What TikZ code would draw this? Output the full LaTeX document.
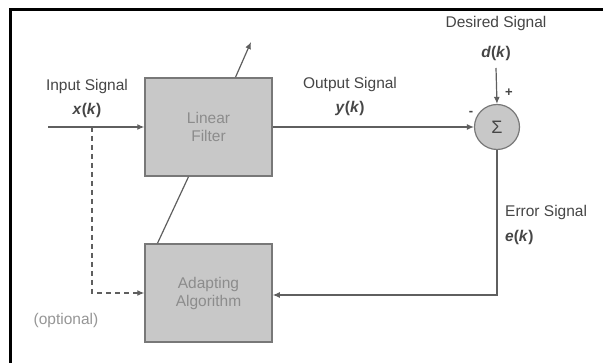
\documentclass[tikz,border=0pt]{standalone}
\usepackage{fontspec}
\setmainfont{Liberation Sans}
\usetikzlibrary{arrows.meta}
\definecolor{linegray}{RGB}{95,95,95}
\definecolor{boxfill}{RGB}{200,200,200}
\definecolor{boxedge}{RGB}{120,120,120}
\definecolor{labelgray}{RGB}{70,70,70}
\definecolor{innergray}{RGB}{140,140,140}
\definecolor{optgray}{RGB}{150,150,150}
\begin{document}
\begin{tikzpicture}[x=1pt,y=-1pt,
  block/.style={draw=boxedge,line width=1.5pt,fill=boxfill,minimum width=127pt,minimum height=98pt,inner sep=0pt,align=center,text=innergray,font=\fontsize{15.5}{18}\selectfont},
  lbl/.style={text=labelgray,font=\fontsize{15.5}{18}\selectfont,inner sep=0pt,align=center},
  conn/.style={draw=linegray,line width=1.2pt},
  arr/.style={conn,-{Latex[length=7pt,width=6pt]}}]
\useasboundingbox (0,0) rectangle (603,363);
\fill[white] (0,0) rectangle (603,363);
\draw[black,line width=3pt] (10,363) -- (10,10) -- (603,10);

\node[block] (lf) at (208.5,127) {Linear\\Filter};
\node[block] (aa) at (208.5,293) {Adapting\\Algorithm};
\node[draw=boxedge,line width=1.2pt,fill=boxfill,circle,minimum size=45pt,inner sep=0pt,text=labelgray,font=\fontsize{18}{20}\selectfont] (sum) at (497,127) {Σ};

\coordinate (in) at (48,127);
\coordinate (tap) at (92,127);
\coordinate (dcorner) at (92,293);
\coordinate (dsrc) at (496,68);
\coordinate (ecorner) at (497,295);
\coordinate (tipA) at (251,42);

\node[lbl] (inlbl) at (87,86) {Input Signal};
\node[lbl] (xk) at (87,110) {\textbf{\textit{x}(\textit{k})}};
\node[lbl] (outlbl) at (350,84) {Output Signal};
\node[lbl] (yk) at (350,108) {\textbf{\textit{y}(\textit{k})}};
\node[lbl] (deslbl) at (496,23) {Desired Signal};
\node[lbl] (dk) at (496,53) {\textbf{\textit{d}(\textit{k})}};
\node[lbl,anchor=west] (errlbl) at (505,212) {Error Signal};
\node[lbl,anchor=west] (ek) at (505,237) {\textbf{\textit{e}(\textit{k})}};
\node[lbl,text=optgray] (opt) at (66,320) {(optional)};
\node[lbl,font=\bfseries\fontsize{13}{14}\selectfont] (minus) at (471,113) {-};
\node[lbl,font=\bfseries\fontsize{13}{14}\selectfont] (plus) at (509,93) {+};

\draw[arr] (in) -- (lf.west);
\draw[arr] (lf.east) -- (sum.west);
\draw[arr] (dsrc) -- (sum.north);
\draw[arr] (sum.south) -- (ecorner) -- (aa.east |- ecorner);
\draw[conn,dash pattern=on 5pt off 4pt,-{Latex[length=7pt,width=6pt]}] (tap) -- (dcorner) -- (aa.west |- dcorner);
\draw[conn] ([xshift=-20pt]lf.south) -- ([xshift=-51pt]aa.north);
\draw[arr] ([xshift=27pt]lf.north) -- (tipA);
\end{tikzpicture}
\end{document}
